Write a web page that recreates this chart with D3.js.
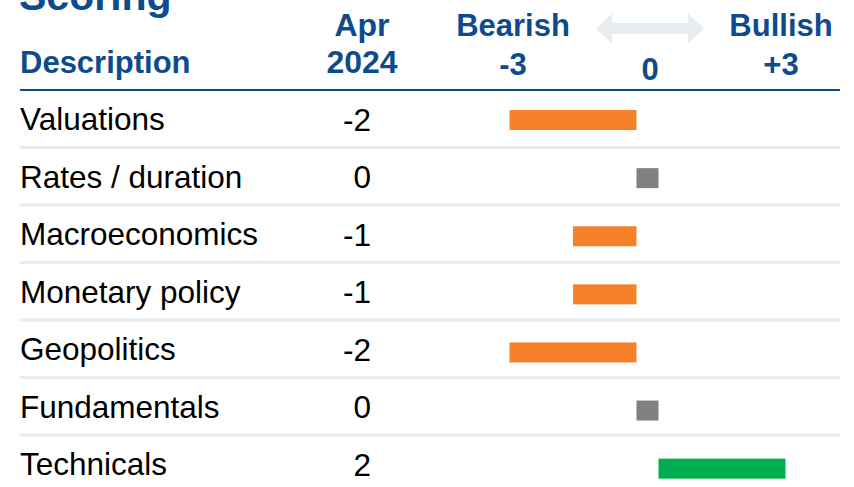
<!DOCTYPE html>
<html>
<head>
<meta charset="utf-8">
<script src="https://cdn.jsdelivr.net/npm/d3@7/dist/d3.min.js"></script>
<style>
  html, body { margin: 0; padding: 0; background: #ffffff; }
  svg { display: block; }
  text { font-family: "Liberation Sans", Arial, sans-serif; }
</style>
</head>
<body>
<svg id="chart" width="854" height="487"></svg>
<script>
// Scoring table: one row per factor, score from -3 (bearish) to +3 (bullish)
const descriptions = ["Valuations", "Rates / duration", "Macroeconomics", "Monetary policy", "Geopolitics", "Fundamentals", "Technicals"];
const scores = [-2, 0, -1, -1, -2, 0, 2];
const scaleLabels = ["-3", "0", "+3"];
const scaleWords = ["Bearish", "Bullish"];
const periodLabel = ["Apr", "2024"];
const titleText = "Scoring";
const columnHeader = "Description";

const BLUE = "#0E4B8C";
const ORANGE = "#F6812A";
const GREY = "#808080";
const GREEN = "#00AE4F";
const RULE = "#E6ECEF";

const svg = d3.select("#chart");
const rows = descriptions.map((d, i) => ({ name: d, score: scores[i] }));

// Row bands for the text columns and the bars
const yRow = d3.scaleBand().domain(descriptions).range([90, 90 + 7 * 57.5]);
const yBar = d3.scaleBand().domain(descriptions).range([91, 91 + 7 * 58.1]);

// Score axis: zero sits just left of the header "0"
const unit = 63.5;
const x0 = 636.5;
const x = d3.scaleLinear().domain([-3, 3]).range([x0 - 3 * unit, x0 + 3 * unit]);
const zeroW = 22;       // width of the neutral (0) marker
const barH = 20;

// Title (runs off the top edge)
svg.append("text")
  .attr("x", 19).attr("y", 10)
  .attr("font-size", 41).attr("font-weight", "bold")
  .attr("fill", BLUE).text(titleText);

// Header
const head = svg.append("g").attr("fill", BLUE).attr("font-weight", "bold").attr("font-size", 31);
head.append("text").attr("x", 20).attr("y", 73).text(columnHeader);
head.append("text").attr("x", 362).attr("y", 36).attr("text-anchor", "middle").attr("font-size", 32).text(periodLabel[0]);
head.append("text").attr("x", 362).attr("y", 73).attr("text-anchor", "middle").attr("font-size", 32).text(periodLabel[1]);
head.append("text").attr("x", 513).attr("y", 36).attr("text-anchor", "middle").text(scaleWords[0]);
head.append("text").attr("x", 781).attr("y", 36).attr("text-anchor", "middle").text(scaleWords[1]);
head.append("text").attr("x", 513).attr("y", 75).attr("text-anchor", "middle").text(scaleLabels[0]);
head.append("text").attr("x", 650).attr("y", 80).attr("text-anchor", "middle").text(scaleLabels[1]);
head.append("text").attr("x", 781).attr("y", 75).attr("text-anchor", "middle").text(scaleLabels[2]);

// Double-headed arrow between Bearish and Bullish
const ax1 = 596, ax2 = 704, ay = 28.5, headL = 16, headH = 15, shaftH = 5.5;
svg.append("path")
  .attr("fill", RULE)
  .attr("d", d3.line()([
    [ax1, ay], [ax1 + headL, ay - headH], [ax1 + headL, ay - shaftH],
    [ax2 - headL, ay - shaftH], [ax2 - headL, ay - headH], [ax2, ay],
    [ax2 - headL, ay + headH], [ax2 - headL, ay + shaftH],
    [ax1 + headL, ay + shaftH], [ax1 + headL, ay + headH]
  ]) + "Z");

// Header rule
svg.append("line")
  .attr("x1", 20).attr("x2", 840).attr("y1", 90).attr("y2", 90)
  .attr("stroke", BLUE).attr("stroke-width", 2.2);

// Row separators
svg.append("g").selectAll("line")
  .data(descriptions.slice(0, -1))
  .join("line")
  .attr("x1", 20).attr("x2", 840)
  .attr("y1", d => yRow(d) + yRow.bandwidth())
  .attr("y2", d => yRow(d) + yRow.bandwidth())
  .attr("stroke", RULE).attr("stroke-width", 3);

// Row labels and scores (plain hyphen for negatives)
const body = svg.append("g").attr("font-size", 31.5).attr("fill", "#000");
body.selectAll("text.name")
  .data(rows).join("text").attr("class", "name")
  .attr("x", 20)
  .attr("y", d => yRow(d.name) + yRow.bandwidth() / 2 + 11.5)
  .text(d => d.name);
body.selectAll("text.score")
  .data(rows).join("text").attr("class", "score")
  .attr("x", 371).attr("text-anchor", "end")
  .attr("y", d => yRow(d.name) + yRow.bandwidth() / 2 + 12)
  .text(d => String(d.score));

// Score bars: negative to the left of zero, neutral marker, positive to the right of it
svg.append("g").selectAll("rect")
  .data(rows).join("rect")
  .attr("y", d => yBar(d.name) + yBar.bandwidth() / 2 - barH / 2)
  .attr("height", barH)
  .attr("x", d => d.score < 0 ? x(d.score) : d.score === 0 ? x(0) : x(0) + zeroW)
  .attr("width", d => d.score === 0 ? zeroW : Math.abs(x(d.score) - x(0)))
  .attr("fill", d => d.score < 0 ? ORANGE : d.score === 0 ? GREY : GREEN);
</script>
</body>
</html>
